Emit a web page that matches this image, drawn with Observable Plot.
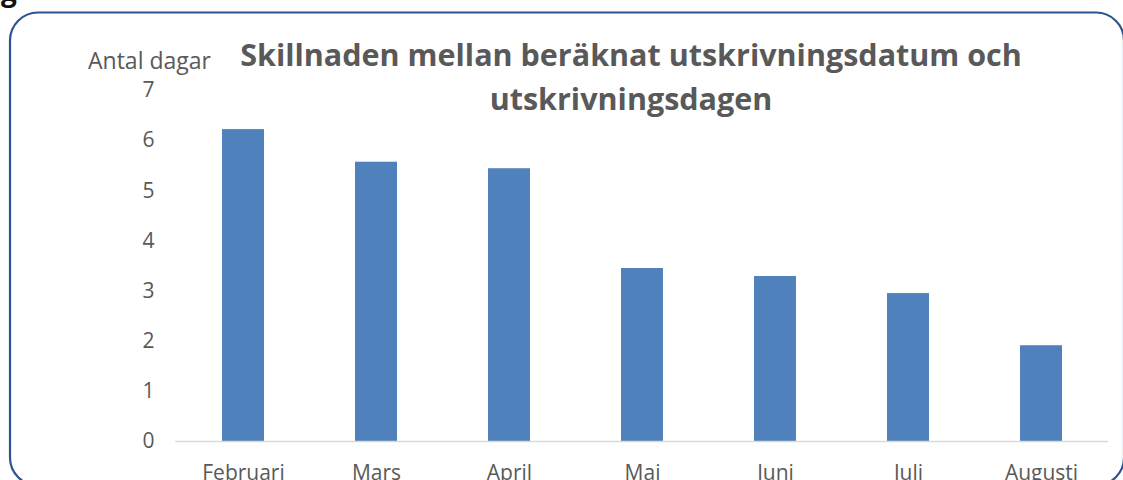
<!DOCTYPE html>
<html>
<head>
<meta charset="utf-8">
<script src="https://cdn.jsdelivr.net/npm/d3@7"></script>
<script src="https://cdn.jsdelivr.net/npm/@observablehq/plot@0.6"></script>
<style>
  html, body { margin: 0; padding: 0; background: white; }
  #chart { width: 1123px; height: 480px; overflow: hidden; }
</style>
</head>
<body>
<div id="chart"></div>
<script>
const months = ["Februari", "Mars", "April", "Maj", "Juni", "Juli", "Augusti"];
const days = [6.22, 5.57, 5.44, 3.45, 3.29, 2.95, 1.91];
const yTicks = [0, 1, 2, 3, 4, 5, 6, 7];
const titleLines = ["Skillnaden mellan beräknat utskrivningsdatum och", "utskrivningsdagen"];
const yLabel = "Antal dagar";

const data = months.map((m, i) => ({month: m, value: days[i]}));
const FONT = "'Open Sans', sans-serif";

const chart = Plot.plot({
  width: 1123,
  height: 480,
  marginLeft: 175,
  marginRight: 15,
  marginTop: 90,
  marginBottom: 39,
  style: {fontFamily: FONT, fontSize: "21px", color: "#595959", background: "white", overflow: "hidden"},
  x: {domain: months, paddingInner: 0.685, paddingOuter: 0.3425, label: null, tickSize: 0, tickPadding: 24},
  y: {domain: [0, 7], ticks: yTicks, tickFormat: d3.format("d"), label: null, tickSize: 0, tickPadding: 21},
  marks: [
    Plot.barY(data, {x: "month", y: "value", fill: "#4f81bd"}),
    Plot.ruleY([0], {stroke: "#d9d9d9", strokeWidth: 1.5})
  ]
});
document.getElementById("chart").appendChild(chart);

const svg = d3.select(chart);
svg.append("rect")
  .attr("x", 10).attr("y", 12.5).attr("width", 1114).attr("height", 473)
  .attr("rx", 28).attr("ry", 28)
  .attr("fill", "none").attr("stroke", "#2c5491").attr("stroke-width", 2.2);

svg.append("text")
  .attr("x", 1).attr("y", 1).attr("text-anchor", "start")
  .attr("font-family", FONT).attr("font-weight", "bold").attr("font-size", 28)
  .attr("fill", "#111").text("g");

const title = svg.append("text")
  .attr("text-anchor", "middle")
  .attr("font-family", FONT).attr("font-weight", "bold").attr("font-size", 30.5)
  .attr("fill", "#595959");
titleLines.forEach((t, i) => {
  title.append("tspan").attr("x", 631).attr("y", 66 + i * 44).text(t);
});

svg.append("text")
  .attr("x", 88).attr("y", 69).attr("text-anchor", "start")
  .attr("font-family", FONT).attr("font-size", 23)
  .attr("fill", "#595959").text(yLabel);
</script>
</body>
</html>
